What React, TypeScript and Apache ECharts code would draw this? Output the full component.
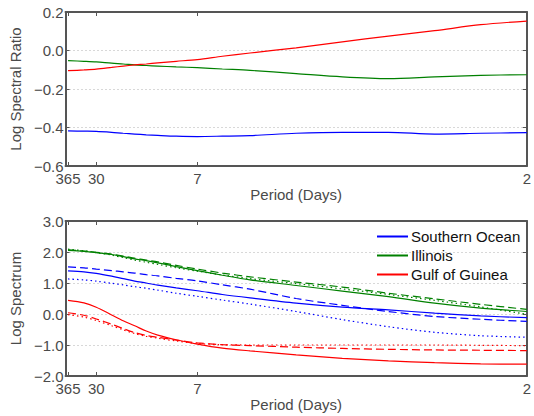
import React, { useEffect, useRef } from "react";
import * as echarts from "echarts";

// Frequency (1/days) sample positions
const freq = [1 / 365, 0.02, 1 / 30, 0.05, 0.0625, 0.075, 0.0875, 0.1, 0.12, 1 / 7, 0.17, 0.2, 0.25, 0.3, 0.35, 0.4, 0.45, 0.5];
const periodTicks = [365, 30, 7, 2];

// Top panel: log spectral ratio
const ratioSouthern = [-0.418, -0.419, -0.42, -0.425, -0.43, -0.434, -0.438, -0.441, -0.445, -0.447, -0.445, -0.442, -0.43, -0.425, -0.425, -0.434, -0.43, -0.427];
const ratioIllinois = [-0.053, -0.056, -0.059, -0.066, -0.07, -0.075, -0.078, -0.081, -0.085, -0.089, -0.096, -0.103, -0.12, -0.137, -0.146, -0.137, -0.129, -0.126];
const ratioGuinea = [-0.105, -0.101, -0.097, -0.088, -0.081, -0.075, -0.07, -0.064, -0.056, -0.047, -0.03, -0.013, 0.014, 0.045, 0.075, 0.103, 0.134, 0.153];

// Bottom panel: log spectrum (solid / dashed / dotted)
const southernSolid = [1.39, 1.36, 1.31, 1.22, 1.14, 1.06, 1.0, 0.93, 0.84, 0.75, 0.63, 0.52, 0.35, 0.22, 0.13, 0.03, -0.06, -0.12];
const southernDashed = [1.52, 1.49, 1.45, 1.4, 1.36, 1.32, 1.27, 1.23, 1.15, 1.07, 0.94, 0.8, 0.5, 0.28, 0.08, -0.08, -0.17, -0.24];
const southernDotted = [1.13, 1.1, 1.06, 0.99, 0.94, 0.88, 0.83, 0.77, 0.67, 0.57, 0.45, 0.32, 0.08, -0.18, -0.41, -0.59, -0.7, -0.75];
const illinoisSolid = [2.05, 2.02, 1.98, 1.92, 1.85, 1.78, 1.72, 1.65, 1.53, 1.4, 1.25, 1.1, 0.92, 0.74, 0.56, 0.35, 0.19, 0.08];
const illinoisDashed = [2.07, 2.03, 1.99, 1.93, 1.87, 1.8, 1.74, 1.68, 1.57, 1.45, 1.32, 1.2, 1.03, 0.87, 0.67, 0.49, 0.31, 0.15];
const illinoisDotted = [2.09, 2.04, 1.98, 1.9, 1.82, 1.74, 1.67, 1.6, 1.49, 1.38, 1.26, 1.14, 0.98, 0.81, 0.63, 0.44, 0.23, -0.01];
const guineaSolid = [0.44, 0.36, 0.22, -0.03, -0.22, -0.38, -0.55, -0.68, -0.83, -0.97, -1.1, -1.19, -1.32, -1.43, -1.51, -1.57, -1.61, -1.62];
const guineaDashed = [0.04, -0.04, -0.16, -0.33, -0.47, -0.6, -0.69, -0.75, -0.84, -0.93, -0.99, -1.02, -1.07, -1.11, -1.14, -1.16, -1.17, -1.18];
const guineaDotted = [-0.02, -0.1, -0.21, -0.38, -0.51, -0.63, -0.72, -0.78, -0.87, -0.95, -0.99, -1.0, -1.0, -1.0, -1.0, -1.0, -1.01, -1.02];

const BLUE = "#0000ff";
const GREEN = "#008000";
const RED = "#ff0000";
const AXIS = "#555555";
const TEXT = "#4a4a4a";
const FONT = "Liberation Sans, Arial, Helvetica, sans-serif";

const pairs = (ys: number[]) => freq.map((f, i) => [f, ys[i]]);
const fmtY = (v: number) => (v < 0 ? "\u2212" + Math.abs(v).toFixed(1) : v.toFixed(1));

export default function App() {
  const ref = useRef<HTMLDivElement>(null);
  useEffect(() => {
    if (!ref.current) return;
    const chart = echarts.init(ref.current, undefined, { renderer: "svg" });
    const tickVals = periodTicks.map((p) => 1 / p);
    const xMain = (gridIndex: number) => ({
      type: "value",
      gridIndex,
      min: 0,
      max: 0.5,
      position: "bottom",
      name: "Period (Days)",
      nameLocation: "middle",
      nameGap: 19,
      nameTextStyle: { color: TEXT, fontSize: 15, fontFamily: FONT },
      axisLine: { show: true, onZero: false, lineStyle: { color: AXIS, width: 2 } },
      axisTick: { show: true, inside: true, length: 4, customValues: tickVals, lineStyle: { color: AXIS, width: 1 } },
      axisLabel: {
        show: true,
        customValues: tickVals,
        margin: 5,
        color: TEXT,
        fontSize: 15,
        fontFamily: FONT,
        formatter: (v: number) => String(Math.round(1 / v)),
      },
      splitLine: { show: false },
    });
    const xTop = (gridIndex: number) => ({
      type: "value",
      gridIndex,
      min: 0,
      max: 0.5,
      position: "top",
      axisLine: { show: true, onZero: false, lineStyle: { color: AXIS, width: 2 } },
      axisTick: { show: true, inside: true, length: 4, customValues: tickVals, lineStyle: { color: AXIS, width: 1 } },
      axisLabel: { show: false },
      splitLine: { show: false },
    });
    const yMain = (gridIndex: number, min: number, max: number, interval: number, name: string) => ({
      type: "value",
      gridIndex,
      min,
      max,
      interval,
      position: "left",
      name,
      nameLocation: "middle",
      nameGap: 38,
      nameTextStyle: { color: TEXT, fontSize: 15, fontFamily: FONT },
      axisLine: { show: true, onZero: false, lineStyle: { color: AXIS, width: 2 } },
      axisTick: { show: true, inside: true, length: 4, lineStyle: { color: AXIS, width: 1 } },
      axisLabel: { color: TEXT, fontSize: 15, fontFamily: FONT, margin: 2, formatter: fmtY },
      splitLine: { show: true, lineStyle: { color: "#b0b0b0", width: 1, type: [1, 3] } },
    });
    const yRight = (gridIndex: number, min: number, max: number, interval: number) => ({
      type: "value",
      gridIndex,
      min,
      max,
      interval,
      position: "right",
      axisLine: { show: true, onZero: false, lineStyle: { color: AXIS, width: 2 } },
      axisTick: { show: true, inside: true, length: 4, lineStyle: { color: AXIS, width: 1 } },
      axisLabel: { show: false },
      splitLine: { show: false },
    });
    const line = (
      name: string,
      xi: number,
      yi: number,
      ys: number[],
      color: string,
      type: any
    ) => ({
      type: "line",
      name,
      xAxisIndex: xi,
      yAxisIndex: yi,
      data: pairs(ys),
      smooth: 0.3,
      showSymbol: false,
      symbol: "none",
      lineStyle: { color, width: 1.2, type },
      itemStyle: { color },
      z: 3,
    });
    const DASH = [8, 4];
    const DOT = [1.5, 3];
    chart.setOption({
      animation: false,
      backgroundColor: "#ffffff",
      textStyle: { fontFamily: FONT },
      grid: [
        { left: 63, right: 1, top: 12, height: 154 },
        { left: 63, right: 1, top: 221, height: 155 },
      ],
      xAxis: [xMain(0), xTop(0), xMain(1), xTop(1)],
      yAxis: [
        yMain(0, -0.6, 0.2, 0.2, "Log Spectral Ratio"),
        yRight(0, -0.6, 0.2, 0.2),
        yMain(1, -2, 3, 1, "Log Spectrum"),
        yRight(1, -2, 3, 1),
      ],
      legend: {
        show: true,
        orient: "vertical",
        left: 372,
        top: 224,
        itemWidth: 31,
        itemHeight: 2,
        itemGap: 4,
        icon: "rect",
        data: ["Southern Ocean", "Illinois", "Gulf of Guinea"],
        textStyle: { color: "#111111", fontSize: 15, fontFamily: FONT, padding: [0, 0, 0, -2] },
        backgroundColor: "transparent",
      },
      series: [
        line("Southern Ocean ratio", 0, 0, ratioSouthern, BLUE, "solid"),
        line("Illinois ratio", 0, 0, ratioIllinois, GREEN, "solid"),
        line("Gulf of Guinea ratio", 0, 0, ratioGuinea, RED, "solid"),
        line("Southern Ocean", 2, 2, southernSolid, BLUE, "solid"),
        line("Southern Ocean dashed", 2, 2, southernDashed, BLUE, DASH),
        line("Southern Ocean dotted", 2, 2, southernDotted, BLUE, DOT),
        line("Illinois", 2, 2, illinoisSolid, GREEN, "solid"),
        line("Illinois dashed", 2, 2, illinoisDashed, GREEN, DASH),
        line("Illinois dotted", 2, 2, illinoisDotted, GREEN, DOT),
        line("Gulf of Guinea", 2, 2, guineaSolid, RED, "solid"),
        line("Gulf of Guinea dashed", 2, 2, guineaDashed, RED, DASH),
        line("Gulf of Guinea dotted", 2, 2, guineaDotted, RED, DOT),
      ],
    });
    return () => chart.dispose();
  }, []);
  return (
    <div
      ref={ref}
      style={{ position: "absolute", left: 0, top: 0, width: 534, height: 416 }}
    />
  );
}
